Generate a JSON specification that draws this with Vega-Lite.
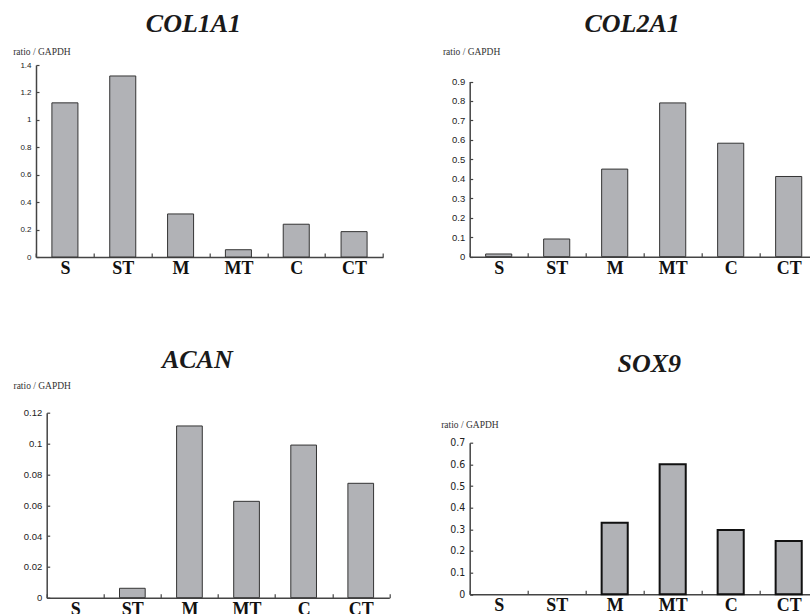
{
  "$schema": "https://vega.github.io/schema/vega-lite/v6.json",
  "background": "white",
  "padding": {"left": 12.7, "top": 10, "right": 0, "bottom": 0},
  "datasets": {
    "col1a1": [
      {"group": "S", "value": 1.124},
      {"group": "ST", "value": 1.32},
      {"group": "M", "value": 0.314},
      {"group": "MT", "value": 0.053},
      {"group": "C", "value": 0.239},
      {"group": "CT", "value": 0.185}
    ],
    "col2a1": [
      {"group": "S", "value": 0.014},
      {"group": "ST", "value": 0.091},
      {"group": "M", "value": 0.45},
      {"group": "MT", "value": 0.79},
      {"group": "C", "value": 0.583},
      {"group": "CT", "value": 0.412}
    ],
    "acan": [
      {"group": "S", "value": 0},
      {"group": "ST", "value": 0.0061},
      {"group": "M", "value": 0.1114},
      {"group": "MT", "value": 0.0625},
      {"group": "C", "value": 0.099},
      {"group": "CT", "value": 0.0742}
    ],
    "sox9": [
      {"group": "S", "value": 0},
      {"group": "ST", "value": 0},
      {"group": "M", "value": 0.33},
      {"group": "MT", "value": 0.6},
      {"group": "C", "value": 0.297},
      {"group": "CT", "value": 0.246}
    ]
  },
  "config": {
    "view": {"stroke": null},
    "title": {"font": "Liberation Serif", "fontStyle": "italic", "fontWeight": "bold", "fontSize": 26, "color": "#1a1a1a", "anchor": "middle", "baseline": "alphabetic"},
    "axis": {"grid": false, "domainColor": "#444", "domainWidth": 1.5, "tickColor": "#444", "tickWidth": 1.2},
    "axisX": {"labelFont": "Liberation Serif", "labelFontWeight": "bold", "labelFontSize": 18, "labelColor": "#111", "labelAngle": 0, "labelBaseline": "alphabetic", "tickSize": -4, "labelPadding": 20.5, "tickBand": "extent", "title": null},
    "axisY": {"labelFont": "Liberation Sans", "labelColor": "#222", "tickSize": -3, "labelPadding": 8, "titleFont": "Liberation Serif", "titleFontWeight": "normal", "titleFontSize": 9.5, "titleColor": "#333", "titleAngle": 0, "titleAlign": "left", "titleBaseline": "alphabetic", "format": ".2~g"}
  },
  "hconcat": [
    {
      "vconcat": [
        {
          "data": {"name": "col1a1"},
          "width": 336.3, "height": 192,
          "title": {"text": "COL1A1", "offset": 10, "dx": -21.4},
          "mark": {"type": "bar", "width": {"band": 0.45}, "fill": "#b1b2b6", "stroke": "#333", "strokeWidth": 1},
          "encoding": {
            "x": {"field": "group", "type": "nominal", "sort": null, "scale": {"paddingInner": 0, "paddingOuter": 0, "range": [-10.7, 336.3]}},
            "y": {"field": "value", "type": "quantitative", "scale": {"domain": [0, 1.4], "nice": false},
                  "axis": {"title": "ratio / GAPDH", "offset": 10.7, "titleX": -23.3, "titleY": -10.5, "values": [0, 0.2, 0.4, 0.6, 0.8, 1, 1.2, 1.4], "labelFontSize": 8}}
          }
        },
        {
          "data": {"name": "acan"},
          "width": 342.6, "height": 185,
          "title": {"text": "ACAN", "offset": 7.5, "dx": -20.7},
          "mark": {"type": "bar", "width": {"band": 0.45}, "fill": "#b1b2b6", "stroke": "#333", "strokeWidth": 1},
          "encoding": {
            "x": {"field": "group", "type": "nominal", "sort": null, "scale": {"paddingInner": 0, "paddingOuter": 0}},
            "y": {"field": "value", "type": "quantitative", "scale": {"domain": [0, 0.12], "nice": false},
                  "axis": {"title": "ratio / GAPDH", "titleX": -33.7, "titleY": -24, "values": [0, 0.02, 0.04, 0.06, 0.08, 0.1, 0.12], "labelFontSize": 9.5}},
            "strokeOpacity": {"condition": {"test": "datum.value == 0", "value": 0}, "value": 1}
          }
        }
      ],
      "spacing": 68.7,
      "align": "none"
    },
    {
      "vconcat": [
        {
          "data": {"name": "col2a1"},
          "width": 348, "height": 191.7,
          "title": {"text": "COL2A1", "offset": 10, "dx": -11.6},
          "mark": {"type": "bar", "width": {"band": 0.45}, "fill": "#b1b2b6", "stroke": "#333", "strokeWidth": 1},
          "encoding": {
            "x": {"field": "group", "type": "nominal", "sort": null, "scale": {"paddingInner": 0, "paddingOuter": 0}},
            "y": {"field": "value", "type": "quantitative", "scale": {"domain": [0, 0.9], "nice": false, "range": [191.7, 16.5]},
                  "axis": {"title": "ratio / GAPDH", "titleX": -27.3, "titleY": -10.5, "values": [0, 0.1, 0.2, 0.3, 0.4, 0.5, 0.6, 0.7, 0.8, 0.9], "labelFontSize": 9.5}}
          }
        },
        {
          "data": {"name": "sox9"},
          "width": 348, "height": 151.6,
          "title": {"text": "SOX9", "offset": 42.8, "dx": 5.5},
          "mark": {"type": "bar", "width": {"band": 0.45}, "fill": "#b1b2b6", "stroke": "#111", "strokeWidth": 2},
          "encoding": {
            "x": {"field": "group", "type": "nominal", "sort": null, "scale": {"paddingInner": 0, "paddingOuter": 0}},
            "y": {"field": "value", "type": "quantitative", "scale": {"domain": [0, 0.7], "nice": false},
                  "axis": {"title": "ratio / GAPDH", "titleX": -29, "titleY": -14.7, "values": [0, 0.1, 0.2, 0.3, 0.4, 0.5, 0.6, 0.7], "labelFont": "Liberation Sans Narrow, DejaVu Sans Condensed, Liberation Sans", "labelFontSize": 10.5}},
            "strokeOpacity": {"condition": {"test": "datum.value == 0", "value": 0}, "value": 1}
          }
        }
      ],
      "spacing": 72.7,
      "align": "none"
    }
  ],
  "spacing": 47,
  "align": "none"
}
